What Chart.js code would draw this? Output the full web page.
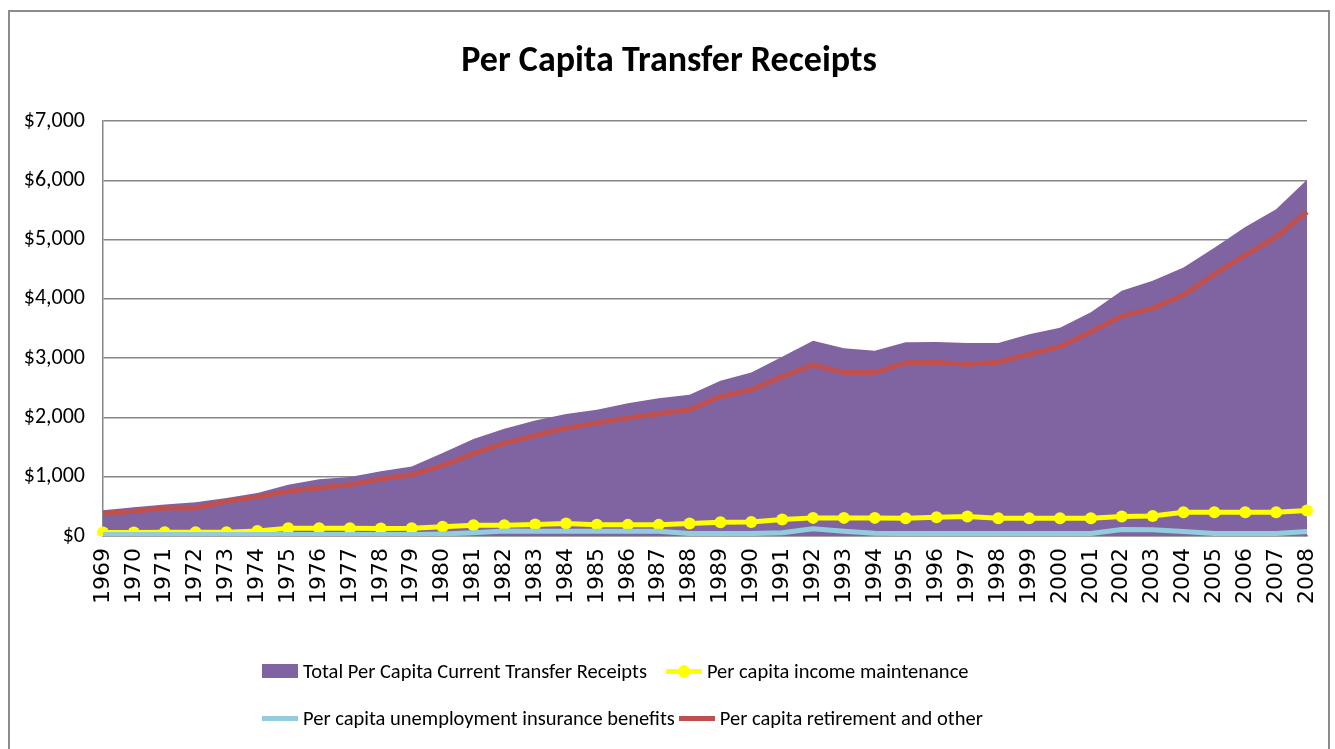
<!DOCTYPE html>
<html>
<head>
<meta charset="utf-8">
<title>Per Capita Transfer Receipts</title>
<script src="https://cdn.jsdelivr.net/npm/chart.js@4"></script>
<style>
  html, body { margin: 0; padding: 0; background: #fff; overflow: hidden; }
  #frame {
    position: absolute; left: 8px; top: 10px; width: 1322px; height: 800px;
    border: 2px solid #8c8c8c; border-bottom: none; box-sizing: border-box;
  }
  #chart { position: absolute; left: 0; top: 0; }
  #legend {
    position: absolute; left: 262px; top: 658px;
    font-family: Carlito, "Liberation Sans Narrow", "Arial Narrow", sans-serif;
    font-size: 20.5px; color: #000;
  }
  .row { display: flex; height: 26px; margin-bottom: 21px; }
  .item { display: flex; align-items: center; white-space: nowrap; }
  .mark { position: relative; width: 36px; height: 14px; margin-right: 5px; }
  .mark .ln { position: absolute; left: 0; right: 0; top: 5px; height: 5px; }
  .mark .dot { position: absolute; left: 12px; top: 1px; width: 12px; height: 13px; border-radius: 50%; }
</style>
</head>
<body>
<div id="frame"></div>
<canvas id="chart" width="1335" height="749"></canvas>
<div id="legend"></div>
<script>
const years = ["1969", "1970", "1971", "1972", "1973", "1974", "1975", "1976", "1977", "1978",
  "1979", "1980", "1981", "1982", "1983", "1984", "1985", "1986", "1987", "1988",
  "1989", "1990", "1991", "1992", "1993", "1994", "1995", "1996", "1997", "1998",
  "1999", "2000", "2001", "2002", "2003", "2004", "2005", "2006", "2007", "2008"];

const totalReceipts = [434, 485, 530, 569, 643, 727, 867, 956, 997, 1091,
  1175, 1400, 1636, 1810, 1950, 2057, 2130, 2242, 2326, 2382,
  2618, 2758, 3027, 3296, 3168, 3128, 3270, 3275, 3258, 3258,
  3404, 3515, 3775, 4138, 4306, 4530, 4866, 5215, 5513, 6010];

const incomeMaintenance = [60, 60, 62, 62, 65, 85, 130, 130, 130, 125,
  130, 155, 180, 182, 193, 210, 190, 188, 188, 210,
  232, 235, 278, 306, 306, 306, 300, 317, 328, 300,
  300, 300, 300, 328, 339, 400, 400, 400, 400, 429];

const unemploymentBenefits = [25, 25, 25, 25, 25, 25, 25, 25, 25, 25,
  25, 35, 55, 85, 81, 81, 81, 81, 81, 42,
  42, 42, 55, 121, 81, 45, 42, 42, 42, 42,
  42, 42, 42, 109, 105, 76, 42, 42, 42, 76];

const retirementOther = [379, 418, 474, 474, 586, 660, 754, 811, 867, 962,
  1035, 1187, 1389, 1569, 1697, 1821, 1906, 1990, 2062, 2130,
  2354, 2466, 2690, 2887, 2758, 2758, 2925, 2926, 2898, 2932,
  3067, 3195, 3447, 3712, 3841, 4065, 4419, 4739, 5047, 5468];

const narrow = "Carlito, 'Liberation Sans Narrow', 'Arial Narrow', sans-serif";
const gridGray = "#868686";

const chart = new Chart(document.getElementById("chart"), {
  type: "line",
  data: {
    labels: years,
    datasets: [
      {
        label: "Total Per Capita Current Transfer Receipts",
        data: totalReceipts,
        fill: "origin",
        backgroundColor: "#8064A2",
        borderColor: "#8064A2",
        borderWidth: 0,
        pointRadius: 0,
        order: 4
      },
      {
        label: "Per capita income maintenance",
        data: incomeMaintenance,
        borderColor: "#FFFF00",
        backgroundColor: "#FFFF00",
        borderWidth: 5,
        pointRadius: 6,
        pointBorderWidth: 0,
        order: 3
      },
      {
        label: "Per capita unemployment insurance benefits",
        data: unemploymentBenefits,
        borderColor: "#93CDDD",
        backgroundColor: "#93CDDD",
        borderWidth: 5,
        pointRadius: 0,
        order: 2
      },
      {
        label: "Per capita retirement and other",
        data: retirementOther,
        borderColor: "#C0504D",
        backgroundColor: "#C0504D",
        borderWidth: 5,
        pointRadius: 0,
        order: 1
      }
    ]
  },
  options: {
    responsive: false,
    animation: false,
    layout: { padding: { left: 14, right: 11, top: 0, bottom: 133 } },
    scales: {
      x: {
        // keep the rotated last label from pushing the plot in
        afterFit: scale => { scale.paddingRight = 28; },
        grid: { display: false, drawTicks: false },
        border: { display: true, color: gridGray, width: 1.5 },
        ticks: {
          autoSkip: false,
          minRotation: 90,
          maxRotation: 90,
          padding: 12,
          color: "#000",
          font: { family: "'DejaVu Sans', Verdana, sans-serif", size: 22 }
        }
      },
      y: {
        min: 0,
        max: 7000,
        afterFit: scale => { scale.width = 89; },
        grid: { color: gridGray, lineWidth: 1.5, drawTicks: false },
        border: { display: true, color: gridGray, width: 1.5 },
        ticks: {
          stepSize: 1000,
          padding: 18,
          color: "#000",
          font: { family: narrow, size: 22 },
          callback: v => "$" + v.toLocaleString("en-US")
        }
      }
    },
    plugins: {
      legend: { display: false },
      tooltip: { enabled: false },
      title: {
        display: true,
        text: "Per Capita Transfer Receipts",
        color: "#000",
        font: { family: narrow, size: 36, weight: "bold" },
        padding: { top: 40, bottom: 38 }
      }
    }
  }
});

// legend in excel order, two items per row
function buildLegend() {
  const box = document.getElementById("legend");
  box.innerHTML = "";
  const gaps = [19, 4];
  let row;
  chart.data.datasets.forEach((ds, i) => {
    if (i % 2 === 0) {
      row = document.createElement("div");
      row.className = "row";
      row.style.columnGap = gaps[i / 2] + "px";
      box.appendChild(row);
    }
    const item = document.createElement("div");
    item.className = "item";
    let mark;
    if (ds.fill) {
      mark = `<span class="mark" style="background:${ds.backgroundColor}"></span>`;
    } else {
      const dot = ds.pointRadius ? `<span class="dot" style="background:${ds.borderColor}"></span>` : "";
      mark = `<span class="mark"><span class="ln" style="background:${ds.borderColor}"></span>${dot}</span>`;
    }
    item.innerHTML = mark + `<span>${ds.label}</span>`;
    row.appendChild(item);
  });
}

buildLegend();
</script>
</body>
</html>
